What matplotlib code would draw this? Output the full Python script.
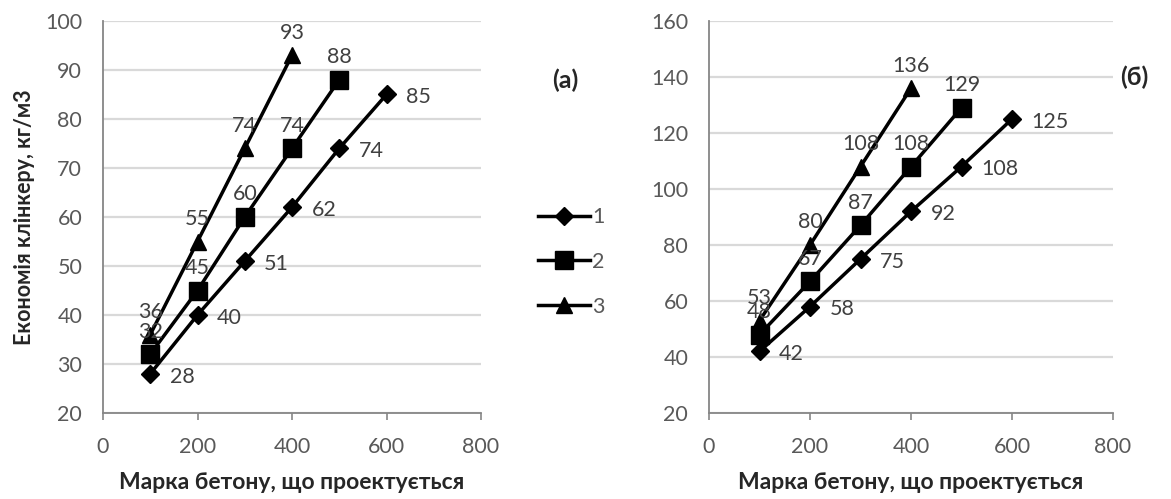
"""
Clinker savings vs. designed concrete grade, two panels (a) and (б).
"""

import matplotlib
matplotlib.use("Agg")
import matplotlib.pyplot as plt
from matplotlib.transforms import Bbox

plt.rcParams["font.family"] = ["Lato", "DejaVu Sans"]

# concrete grade (x) for each series
grade_1 = [100, 200, 300, 400, 500, 600]
grade_2 = [100, 200, 300, 400, 500]
grade_3 = [100, 200, 300, 400]

# panel (a)
a_series_1 = [28, 40, 51, 62, 74, 85]
a_series_2 = [32, 45, 60, 74, 88]
a_series_3 = [36, 55, 74, 93]

# panel (б)
b_series_1 = [42, 58, 75, 92, 108, 125]
b_series_2 = [48, 67, 87, 108, 129]
b_series_3 = [53, 80, 108, 136]

series_labels = ["1", "2", "3"]
x_ticks = [0, 200, 400, 600, 800]
a_y_ticks = [20, 30, 40, 50, 60, 70, 80, 90, 100]
b_y_ticks = [20, 40, 60, 80, 100, 120, 140, 160]

xlabel = "Марка бетону, що проектується"
ylabel = "Економія клінкеру, кг/м3"

TXT = "#595959"
FS = 15.5
STYLES = [
    dict(marker="D", markersize=9.5),
    dict(marker="s", markersize=13),
    dict(marker="^", markersize=12),
]


def draw_panel(ax, series, y_ticks):
    xs = [grade_1, grade_2, grade_3]
    for i, (x, y) in enumerate(zip(xs, series)):
        ax.plot(x, y, color="black", linewidth=2.5, label=series_labels[i], **STYLES[i])
        for xv, yv in zip(x, y):
            if i == 0:
                ax.annotate(f"{yv}", (xv, yv), xytext=(14, -2), textcoords="offset points",
                            ha="left", va="center", fontsize=FS, color="#404040")
            else:
                ax.annotate(f"{yv}", (xv, yv), xytext=(0, 9), textcoords="offset points",
                            ha="center", va="bottom", fontsize=FS, color="#404040")
    ax.set_xlim(x_ticks[0], x_ticks[-1])
    ax.set_ylim(y_ticks[0], y_ticks[-1])
    ax.set_xticks(x_ticks)
    ax.set_yticks(y_ticks)
    ax.grid(True, axis="y", color="#d9d9d9", linewidth=1.6)
    ax.set_axisbelow(True)
    for side in ["top", "right"]:
        ax.spines[side].set_visible(False)
    for side in ["left", "bottom"]:
        ax.spines[side].set_color("#868686")
        ax.spines[side].set_linewidth(1.3)
    ax.tick_params(axis="x", colors="#868686", labelcolor=TXT, labelsize=FS, length=5, width=1.2, pad=12)
    ax.tick_params(axis="y", length=0, labelcolor=TXT, labelsize=FS, pad=15)
    ax.set_xlabel(xlabel, fontsize=16.5, fontweight="bold", color="#262626", labelpad=11)


fig = plt.figure(figsize=(11.71, 4.99), dpi=100)
ax_a = fig.add_axes([103 / 1171, 1 - 413 / 499, 378 / 1171, 392 / 499])
ax_b = fig.add_axes([709 / 1171, 1 - 413 / 499, 404 / 1171, 392 / 499])

draw_panel(ax_a, [a_series_1, a_series_2, a_series_3], a_y_ticks)
draw_panel(ax_b, [b_series_1, b_series_2, b_series_3], b_y_ticks)
ax_a.set_ylabel(ylabel, fontsize=15.5, fontweight="bold", color="#262626", labelpad=7)

leg = fig.legend(*ax_a.get_legend_handles_labels(), loc="center left",
                 bbox_to_anchor=(519 / 1171, 1 - 262 / 499), frameon=False,
                 fontsize=FS, handlelength=2.4, handletextpad=0.1, labelspacing=1.15)
clip = Bbox.from_extents(0, 0, 606, 499)
for t in leg.get_texts():
    t.set_color(TXT)
    t.set_clip_box(clip)
    t.set_clip_on(True)

fig.text(565 / 1171, 1 - 80 / 499, "(a)", fontsize=18, fontweight="bold",
         color="#262626", ha="center", va="center")
fig.text(1120 / 1171, 1 - 77 / 499, "(б)", fontsize=18, fontweight="bold",
         color="#262626", ha="left", va="center")

fig.savefig("out.png", dpi=100)
